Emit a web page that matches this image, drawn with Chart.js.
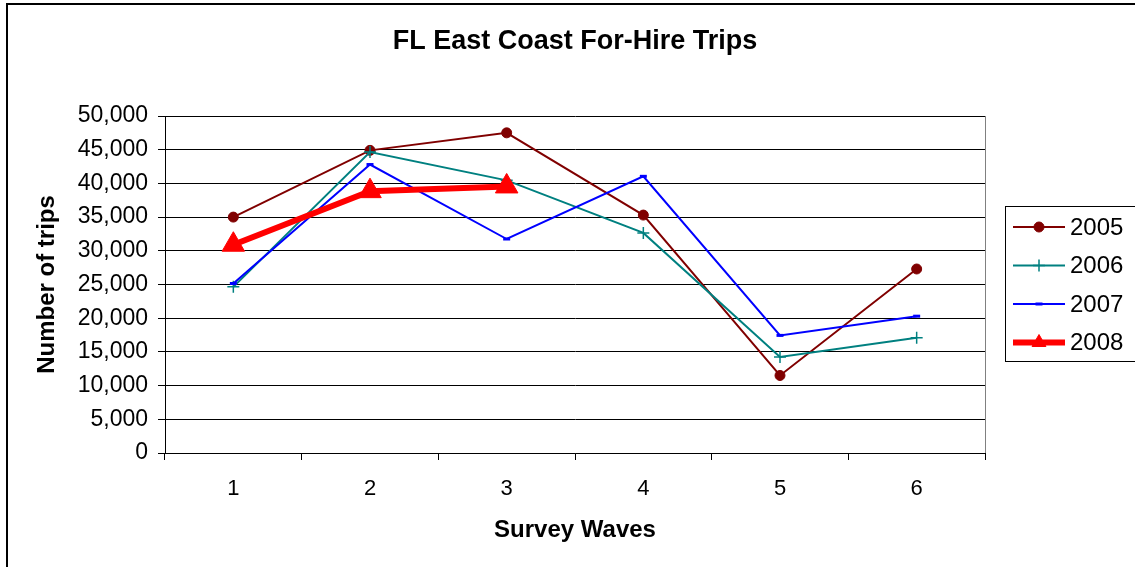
<!DOCTYPE html>
<html>
<head>
<meta charset="utf-8">
<title>FL East Coast For-Hire Trips</title>
<script src="https://cdn.jsdelivr.net/npm/chart.js@4.4.0/dist/chart.umd.min.js"></script>
<style>
    body { margin: 0; background: #fff; }
    #wrap { position: relative; width: 1135px; height: 567px; }
</style>
</head>
<body>
<div id="wrap"><canvas id="tripsChart"></canvas></div>
<script>
const waves = ["1", "2", "3", "4", "5", "6"]; // survey waves on the x axis
const seriesNames = ["2005", "2006", "2007", "2008"];
const trips2005 = [35000, 44900, 47500, 35300, 11500, 27300];
const trips2006 = [24650, 44650, 40450, 32650, 14250, 17100];
const trips2007 = [25150, 42800, 31750, 41050, 17450, 20300];
const trips2008 = [30900, 38850, 39550, null, null, null];
const yTicks = [0, 5000, 10000, 15000, 20000, 25000, 30000, 35000, 40000, 45000, 50000];

const FONT = "'Liberation Sans', Arial, sans-serif";

// Draws the outer frame, right plot border and the boxed legend
const frameAndLegend = {
    id: "frameAndLegend",
    afterDraw(chart) {
        const ctx = chart.ctx;
        const area = chart.chartArea;
        ctx.save();

        // outer chart border
        ctx.strokeStyle = "#000";
        ctx.lineWidth = 2;
        ctx.strokeRect(7, 4, 1200, 700);

        // plot area right border
        ctx.strokeStyle = "#808080";
        ctx.lineWidth = 1;
        ctx.beginPath();
        ctx.moveTo(Math.round(area.right) + 0.5, area.top);
        ctx.lineTo(Math.round(area.right) + 0.5, area.bottom);
        ctx.stroke();

        // legend box
        ctx.strokeStyle = "#000";
        ctx.strokeRect(1005.5, 206.5, 200, 155);

        chart.data.datasets.forEach(function (ds, i) {
            const y = 227 + i * 38.5;
            ctx.strokeStyle = ds.borderColor;
            ctx.fillStyle = ds.borderColor;
            ctx.lineWidth = ds.borderWidth;
            ctx.beginPath();
            ctx.moveTo(1013, y);
            ctx.lineTo(1065, y);
            ctx.stroke();

            ctx.lineWidth = ds.pointBorderWidth;
            Chart.helpers.drawPoint(ctx, {
                pointStyle: ds.pointStyle,
                radius: Math.min(ds.pointRadius, 8),
                borderWidth: ds.pointBorderWidth,
                rotation: 0
            }, 1039, y);

            ctx.fillStyle = "#000";
            ctx.font = "24px " + FONT;
            ctx.textAlign = "left";
            ctx.textBaseline = "middle";
            ctx.fillText(ds.label, 1070, y + 1);
        });
        ctx.restore();
    }
};

const chart = new Chart(document.getElementById("tripsChart"), {
    type: "line",
    data: {
        labels: waves,
        datasets: [
            {
                label: seriesNames[0],
                data: trips2005,
                borderColor: "#800000",
                backgroundColor: "#800000",
                borderWidth: 2,
                pointStyle: "circle",
                pointRadius: 5,
                pointBorderWidth: 1,
                order: 4
            },
            {
                label: seriesNames[1],
                data: trips2006,
                borderColor: "#008080",
                backgroundColor: "#008080",
                borderWidth: 2,
                pointStyle: "cross",
                pointRadius: 6,
                pointBorderWidth: 1.5,
                order: 3
            },
            {
                label: seriesNames[2],
                data: trips2007,
                borderColor: "#0000FF",
                backgroundColor: "#0000FF",
                borderWidth: 2,
                pointStyle: "line",
                pointRadius: 3.5,
                pointBorderWidth: 3,
                order: 2
            },
            {
                label: seriesNames[3],
                data: trips2008,
                borderColor: "#FF0000",
                backgroundColor: "#FF0000",
                borderWidth: 6,
                pointStyle: "triangle",
                pointRadius: 13,
                pointBorderWidth: 1,
                order: 1
            }
        ]
    },
    options: {
        responsive: true,
        maintainAspectRatio: false,
        animation: false,
        layout: { padding: { left: 8, top: 0, right: 150, bottom: 0 } },
        elements: { line: { tension: 0 } },
        plugins: {
            legend: { display: false },
            tooltip: { enabled: false },
            title: {
                display: true,
                fullSize: false,
                text: "FL East Coast For-Hire Trips",
                color: "#000",
                font: { family: FONT, size: 27, weight: "bold", lineHeight: 1.2 },
                padding: { top: 25, bottom: 58.6 }
            }
        },
        scales: {
            x: {
                offset: true,
                grid: { offset: true, drawOnChartArea: false, color: "#000", tickLength: 7 },
                border: { color: "#000", width: 1 },
                ticks: { color: "#000", padding: 16, font: { family: FONT, size: 22 } },
                title: {
                    display: true,
                    text: "Survey Waves",
                    color: "#000",
                    font: { family: FONT, size: 24, weight: "bold", lineHeight: 1.2 },
                    padding: { top: 0, bottom: 22.6 }
                },
                afterFit: function (scale) { scale.height = 114; }
            },
            y: {
                min: 0,
                max: 50000,
                afterBuildTicks: function (scale) {
                    scale.ticks = yTicks.map(v => ({ value: v }));
                },
                grid: { color: "#000", tickLength: 7 },
                border: { color: "#000", width: 1 },
                ticks: {
                    color: "#000",
                    padding: 10,
                    font: { family: FONT, size: 23 },
                    callback: v => v.toLocaleString("en-US")
                },
                title: {
                    display: true,
                    text: "Number of trips",
                    color: "#000",
                    font: { family: FONT, size: 24, weight: "bold", lineHeight: 1.2 },
                    padding: { top: 24.6, bottom: 0 }
                },
                afterFit: function (scale) { scale.width = 157; }
            }
        }
    },
    plugins: [frameAndLegend]
});
</script>
</body>
</html>
